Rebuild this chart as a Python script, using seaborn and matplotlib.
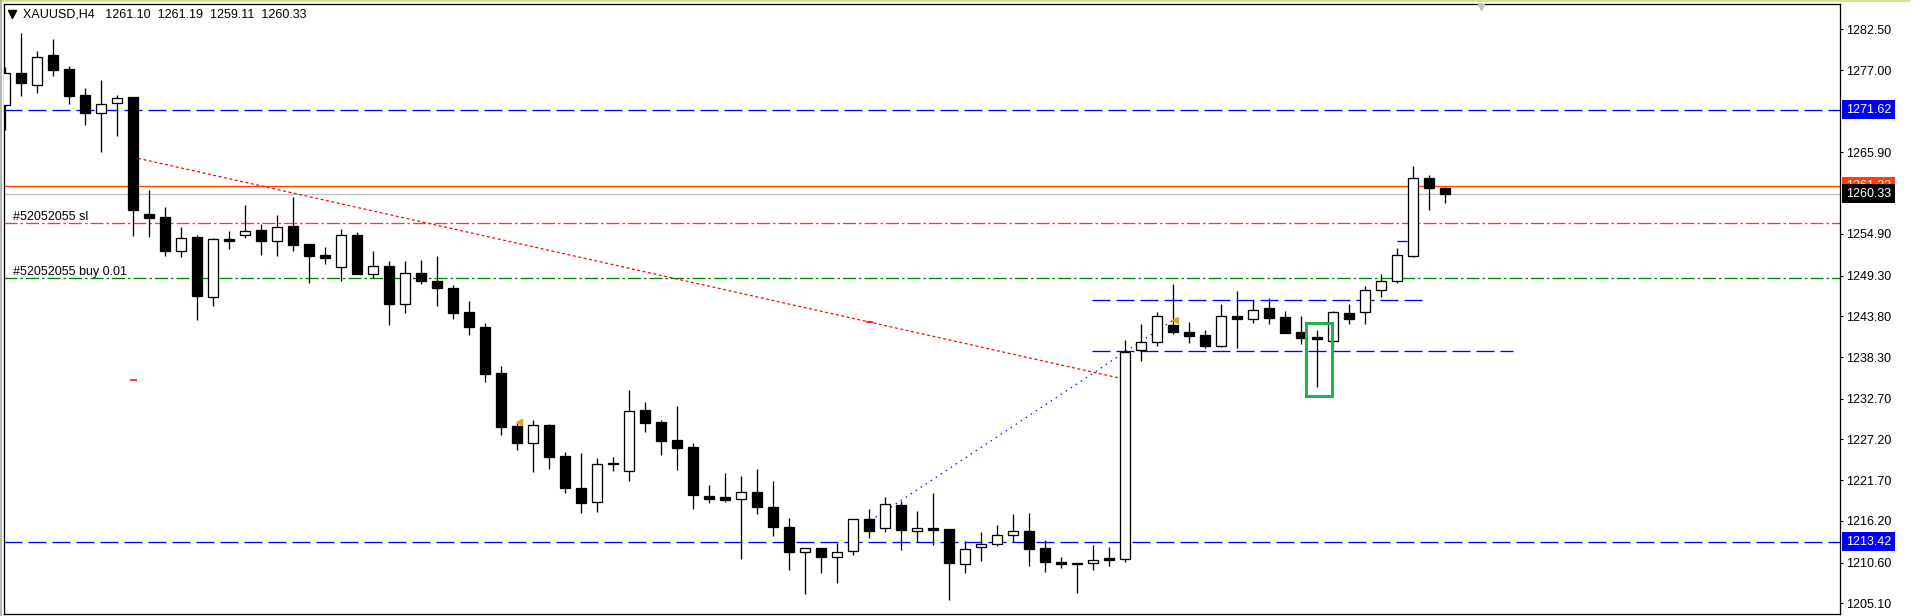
import numpy as np
import pandas as pd
import matplotlib
matplotlib.use("Agg")
import matplotlib.pyplot as plt
import matplotlib.transforms as mtransforms
from matplotlib.patches import Rectangle
from matplotlib.lines import Line2D
import seaborn as sns

# ---------------- data ----------------
opens = [1272.30, 1276.55, 1275.05, 1279.00, 1277.20, 1273.60, 1271.20, 1272.50, 1273.35, 1257.55,
         1257.15, 1252.60, 1254.45, 1246.45, 1254.20, 1254.80, 1255.40, 1254.00, 1255.95, 1253.50,
         1252.05, 1250.45, 1254.80, 1249.50, 1250.60, 1245.45, 1249.70, 1248.50, 1247.55, 1244.40,
         1242.35, 1236.15, 1229.00, 1226.75, 1229.10, 1224.95, 1220.70, 1218.80, 1224.00, 1223.00,
         1231.15, 1229.55, 1227.10, 1226.15, 1219.60, 1219.40, 1219.10, 1220.05, 1218.05, 1215.45,
         1211.95, 1212.50, 1211.30, 1212.20, 1216.50, 1215.30, 1218.40, 1214.90, 1215.20, 1215.10,
         1210.45, 1212.75, 1213.15, 1214.35, 1214.80, 1212.50, 1210.70, 1210.60, 1210.60, 1211.20,
         1211.10, 1239.20, 1240.40, 1242.60, 1241.70, 1241.30, 1239.85, 1243.85, 1243.40, 1244.95,
         1243.70, 1241.70, 1240.95, 1240.50, 1244.30, 1244.35, 1247.40, 1248.55, 1251.95, 1262.50,
         1261.10]
highs = [1277.45, 1281.95, 1279.60, 1281.20, 1277.50, 1274.60, 1275.65, 1273.60, 1273.40, 1260.80,
         1258.60, 1255.90, 1254.70, 1254.40, 1255.30, 1258.80, 1256.30, 1257.40, 1259.90, 1253.50,
         1253.10, 1255.60, 1255.10, 1252.60, 1251.20, 1251.20, 1251.35, 1251.90, 1248.05, 1245.80,
         1242.90, 1237.10, 1229.35, 1229.80, 1229.25, 1225.50, 1225.35, 1224.65, 1224.80, 1233.85,
         1232.25, 1229.80, 1231.70, 1226.65, 1221.00, 1222.65, 1222.25, 1223.20, 1221.55, 1216.55,
         1212.50, 1212.50, 1213.20, 1216.50, 1217.75, 1219.50, 1218.95, 1217.50, 1220.00, 1215.10,
         1213.45, 1214.70, 1215.60, 1217.10, 1217.25, 1213.60, 1211.30, 1210.60, 1213.00, 1212.65,
         1240.60, 1242.70, 1244.40, 1248.20, 1243.00, 1241.95, 1245.45, 1247.20, 1246.05, 1246.30,
         1244.50, 1243.90, 1241.95, 1244.50, 1245.40, 1247.85, 1249.45, 1253.05, 1264.05, 1262.85,
         1261.19]
lows = [1268.90, 1273.50, 1273.90, 1276.20, 1272.40, 1269.60, 1265.95, 1268.10, 1254.60, 1254.50,
        1251.90, 1251.80, 1243.30, 1245.20, 1252.90, 1254.40, 1252.00, 1251.90, 1252.60, 1248.30,
        1250.90, 1248.60, 1249.50, 1248.90, 1242.60, 1244.30, 1248.20, 1245.20, 1243.40, 1241.30,
        1235.00, 1227.80, 1225.80, 1222.80, 1223.20, 1220.00, 1217.30, 1217.40, 1222.95, 1221.55,
        1228.20, 1225.10, 1223.05, 1217.80, 1218.65, 1218.80, 1211.10, 1217.15, 1214.20, 1209.60,
        1206.35, 1209.20, 1207.85, 1211.60, 1213.90, 1214.70, 1212.30, 1213.40, 1213.00, 1205.55,
        1209.20, 1210.80, 1212.85, 1213.40, 1210.15, 1209.35, 1209.90, 1206.50, 1209.60, 1210.15,
        1210.70, 1237.80, 1239.80, 1241.35, 1240.25, 1239.55, 1239.70, 1239.55, 1242.85, 1242.70,
        1241.50, 1240.00, 1234.30, 1239.55, 1242.70, 1242.70, 1246.40, 1248.30, 1251.75, 1258.10,
        1259.11]
closes = [1276.55, 1275.20, 1278.70, 1277.00, 1273.50, 1271.20, 1272.40, 1273.20, 1258.10, 1257.05,
          1252.60, 1254.40, 1246.50, 1254.20, 1254.00, 1255.35, 1254.00, 1255.90, 1253.45, 1251.95,
          1251.70, 1254.80, 1249.50, 1250.60, 1245.45, 1249.70, 1248.60, 1247.60, 1244.30, 1242.30,
          1236.05, 1228.90, 1226.75, 1229.20, 1224.85, 1220.65, 1218.65, 1223.85, 1223.85, 1231.00,
          1229.45, 1227.00, 1226.05, 1219.70, 1219.20, 1219.05, 1220.05, 1218.10, 1215.40, 1212.00,
          1212.50, 1211.35, 1211.95, 1216.50, 1214.90, 1218.55, 1215.00, 1215.20, 1215.00, 1210.55,
          1212.40, 1213.15, 1214.35, 1214.90, 1212.45, 1210.70, 1210.45, 1210.40, 1211.00, 1210.95,
          1239.05, 1240.40, 1243.90, 1241.65, 1241.20, 1239.85, 1243.80, 1243.40, 1244.70, 1243.60,
          1241.60, 1240.90, 1240.70, 1244.35, 1243.40, 1247.40, 1248.55, 1252.00, 1262.50, 1261.15,
          1260.33]

symbol = "XAUUSD,H4"
last_ohlc = ["1261.10", "1261.19", "1259.11", "1260.33"]
tick_values = [1282.50, 1277.00, 1265.90, 1254.90, 1249.30, 1243.80, 1238.30,
               1232.70, 1227.20, 1221.70, 1216.20, 1210.60, 1205.10]
blue_levels = [1271.62, 1213.42]
sl_level = 1256.34
buy_level = 1248.96
bid_price = 1260.33
ask_price = 1261.33
order_labels = ["#52052055 sl", "#52052055 buy 0.01"]
# short user-drawn levels: (bar from, bar to, price)
short_levels = [(67.9, 88.6, 1246.0), (67.9, 94.25, 1239.15), (87.0, 87.6, 1253.95)]
# trend lines: (bar, price) endpoints
red_trend = ([8.3, 69.7], [1265.10, 1235.44])
blue_trend = ([54.4, 73.0], [1216.70, 1243.30])
arrow_marks = ([32.1, 73.1], [1229.5, 1243.3])

# ---------------- styling ----------------
sns.set_theme(style="white")
plt.rcParams["font.family"] = ["Liberation Sans", "DejaVu Sans"]
plt.rcParams["lines.scale_dashes"] = False
PX = 0.72  # points per pixel at dpi 100

W, H = 1924, 616
fig = plt.figure(figsize=(W / 100, H / 100), dpi=100)
fig.patch.set_facecolor("white")
ax_l, ax_r, ax_t, ax_b = 4, 1840, 4.3, 614
ax = fig.add_axes([ax_l / W, (H - ax_b) / H, (ax_r - ax_l) / W, (ax_b - ax_t) / H])
ax.set_facecolor("white")

df = pd.DataFrame(dict(o=opens, h=highs, l=lows, c=closes))
df["x"] = np.arange(len(df))
bull = df["c"] > df["o"]

# candles
ax.vlines(df["x"], df["l"], df["h"], color="black", lw=1.3 * PX, zorder=4)
bottoms = np.minimum(df["o"], df["c"])
heights = (df["c"] - df["o"]).abs()
ax.bar(df["x"], heights, bottom=bottoms, width=0.62,
       color=np.where(bull, "white", "black"), edgecolor="black",
       linewidth=1.3 * PX, zorder=5)

# horizontal levels
for lv in blue_levels:
    ax.axhline(lv, color="#0000ff", lw=1.3 * PX, dashes=(18 * PX, 6 * PX), zorder=2)
ax.axhline(ask_price, color="#ff4000", lw=1.3 * PX, zorder=2)
ax.axhline(bid_price, color="#c0c0c0", lw=1.3 * PX, zorder=2)
ax.axhline(sl_level, color="#ff4000", lw=1.3 * PX,
           dashes=(13 * PX, 3 * PX, 2.5 * PX, 3 * PX), zorder=2)
ax.axhline(buy_level, color="#008000", lw=1.3 * PX,
           dashes=(13 * PX, 3 * PX, 2.5 * PX, 3 * PX), zorder=2)
for x0, x1, lv in short_levels:
    ax.hlines(lv, x0, x1, color="#0000ff", lw=1.3 * PX, linestyles=[(0, (18 * PX, 6 * PX))], zorder=2)

# trend lines
sns.lineplot(x=red_trend[0], y=red_trend[1], ax=ax, color="#ff0000", lw=1.2 * PX,
             dashes=False, zorder=3).lines[-1].set_dashes((3 * PX, 2.5 * PX))
bl = ax.plot(blue_trend[0], blue_trend[1], color="#0000ff", lw=1.2 * PX, zorder=3)[0]
bl.set_dashes((1.5 * PX, 4.5 * PX))
ax.hlines(1235.2, 7.8, 8.2, color="#ff0000", lw=1.5 * PX, zorder=3)
ax.hlines(1243.05, 53.8, 54.2, color="#ff0000", lw=1.5 * PX, zorder=3)

# order arrows
ax.plot(arrow_marks[0], arrow_marks[1], ls="none", marker="<", ms=4, color="#daa520",
        mec="#daa520", zorder=6)

# green highlight box
ax.add_patch(Rectangle((81.3, 1233.05), 1.64, 9.89, fill=False, ec="#22b14c",
                       lw=3 * PX, zorder=7))

# order labels
for lbl, lv in zip(order_labels, [sl_level, buy_level]):
    ax.annotate(lbl, xy=(9 / (ax_r - ax_l), lv), xycoords=("axes fraction", "data"),
                xytext=(0, 3 * PX), textcoords="offset points", fontsize=9,
                color="black", va="baseline", ha="left", zorder=8)

# header
ax.plot([8.5 / (ax_r - ax_l)], [1 - 10 / (ax_b - ax_t)], transform=ax.transAxes,
        marker="v", ms=6, color="black", clip_on=False, zorder=8)
ax.text(19 / (ax_r - ax_l), 1 - 10 / (ax_b - ax_t),
        symbol + "   " + "  ".join(last_ohlc), transform=ax.transAxes,
        fontsize=9, color="black", va="center", ha="left", zorder=8)
ax.plot([(1481 - ax_l) / (ax_r - ax_l)], [1 - 2.5 / (ax_b - ax_t)], transform=ax.transAxes,
        marker="v", ms=5, color="#c0c0c0", mec="#c0c0c0", clip_on=False, zorder=8)

# axes limits / ticks
ax.set_xlim((ax_l - 5.3) / 16, (ax_r - 5.3) / 16)
ax.set_ylim(1282.5 - (ax_b - 29.3) / 7.416, 1282.5 + (29.3 - ax_t) / 7.416)
ax.set_xticks([])
ax.yaxis.tick_right()
ax.set_yticks(tick_values)
ax.set_yticklabels([f"{v:.2f}" for v in tick_values])
ax.tick_params(axis="y", which="both", right=True, length=3 * PX, width=PX,
               pad=3 * PX, labelsize=9, colors="black")
ax.grid(False)
for s in ax.spines.values():
    s.set_visible(True)
    s.set_color("black")
    s.set_linewidth(1.3 * PX)

# price tags on the scale
blend = mtransforms.blended_transform_factory(ax.transAxes, ax.transData)
tag_x = 1 + 6 / (ax_r - ax_l)
def tag(price, bg, z):
    ax.text(tag_x, price, f"{price:.2f}", transform=blend, fontsize=9, color="white",
            va="center", ha="left", clip_on=False, zorder=z,
            bbox=dict(boxstyle="square,pad=0.28", fc=bg, ec="none"))
for lv in blue_levels:
    tag(lv, "#0000ff", 9)
tag(ask_price, "#ff4000", 9)
tag(bid_price, "#000000", 10)

# window frame bits
fig.add_artist(Line2D([0, 1910 / W], [1 - 0.8 / H, 1 - 0.8 / H], color="#c8d86a", lw=1.5 * PX))
fig.add_artist(Line2D([0.8 / W, 0.8 / W], [0, 1], color="#a0a0a0", lw=1.5 * PX))

fig.savefig("out.png", dpi=100, facecolor="white")
